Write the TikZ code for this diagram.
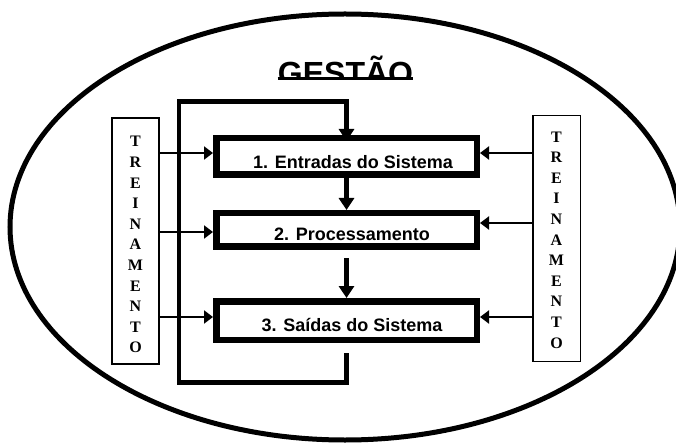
\documentclass[tikz,border=0pt]{standalone}
\usepackage{fontspec}
\setmainfont{Liberation Serif}
\newfontfamily\arialf{Liberation Sans}
\usetikzlibrary{arrows.meta}
\begin{document}
\begin{tikzpicture}[x=1pt,y=-1pt,
  stage/.style={draw, line width=6.5pt, minimum width=260.5pt, inner sep=0pt},
  stagetext/.style={font=\arialf\bfseries\fontsize{18}{20}\selectfont, anchor=base, inner sep=0pt},
  trbox/.style={draw, line width=1.8pt, minimum width=47.5pt, minimum height=246pt, inner sep=0pt},
  trtext/.style={font=\bfseries\fontsize{16}{20.6}\selectfont, align=center, inner sep=0pt},
  side/.style={line width=2pt, -{Triangle[length=9pt,width=13pt]}},
  flow/.style={line width=5pt, -{Triangle[length=12pt,width=15pt]}},
  loopline/.style={line width=4.5pt, line join=miter},
]
\fill[white] (0,0) rectangle (676,443);
\useasboundingbox (0,0) rectangle (676,443);
\draw[line width=5pt] (345,227) ellipse [x radius=335pt, y radius=213pt];

% title
\begin{scope}
  \clip (200,40) rectangle (500,79.5);
  \node[font=\arialf\bfseries\fontsize{32}{34}\selectfont, anchor=base, inner sep=0pt] (title) at (345.5,85) {GESTÃO};
\end{scope}
\draw[line width=3.5pt] (title.west |- 0,78.7) -- (title.east |- 0,78.7);

% stage boxes
\node[stage, minimum height=36.5pt] (b1) at (346.5,156.5) {};
\node[stage, minimum height=33.5pt] (b2) at (346.5,230) {};
\node[stage, minimum height=38.5pt] (b3) at (346.5,320.5) {};
\node[stagetext] (t1) at (353,169) {1. Entradas do Sistema};
\node[stagetext] (t2) at (352,240.7) {2. Processamento};
\node[stagetext] (t3) at (352,331.7) {3. Saídas do Sistema};

% training boxes
\node[trbox] (trL) at (135.5,241) {};
\node[trtext] (trLt) at (135.5,244.8) {T\\R\\E\\I\\N\\A\\M\\E\\N\\T\\O};
\node[trbox] (trR) at (556.8,238.5) {};
\node[trtext] (trRt) at (556.5,240) {T\\R\\E\\I\\N\\A\\M\\E\\N\\T\\O};

% side arrows
\draw[side] (trL.east |- 0,153) -- (b1.west |- 0,153);
\draw[side] (trL.east |- 0,232) -- (b2.west |- 0,232);
\draw[side] (trL.east |- 0,317) -- (b3.west |- 0,317);
\draw[side] (trR.west |- 0,153) -- (b1.east |- 0,153);
\draw[side] (trR.west |- 0,223) -- (b2.east |- 0,223);
\draw[side] (trR.west |- 0,317) -- (b3.east |- 0,317);

% flow arrows
\draw[flow] (b1.south) -- (b2.north);
\draw[flow, shorten <=8pt] (b2.south) -- (b3.north);

% feedback loop
\coordinate (c1) at (346.5,382.5);
\coordinate (c2) at (179,382.5);
\coordinate (c3) at (179,101.7);
\coordinate (c4) at (346.5,101.7);
\draw[loopline, -{Triangle[length=12pt,width=15pt]}, shorten <=10pt, shorten >=-6pt]
  (b3.south) -- (c1) -- (c2) -- (c3) -- (c4) -- (b1.north);
\end{tikzpicture}
\end{document}
